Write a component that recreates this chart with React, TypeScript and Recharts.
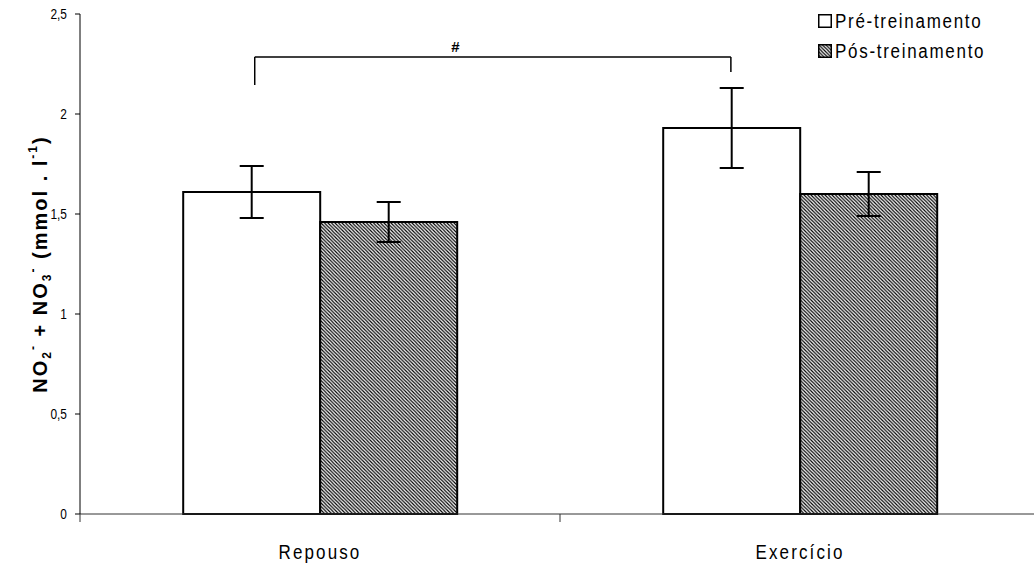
import React from 'react'
import {
  BarChart, Bar, XAxis, YAxis, ErrorBar, Legend, ReferenceLine, ReferenceDot,
} from 'recharts'

const categories = ['Repouso', 'Exercício']
const preValues = [1.61, 1.93]
const posValues = [1.46, 1.6]
const preErrors = [0.13, 0.2]
const posErrors = [0.1, 0.11]
const yTicks = [0, 0.5, 1, 1.5, 2, 2.5]
const seriesNames = ['Pré-treinamento', 'Pós-treinamento']

// significance bracket; x is a fraction of the plot width (hidden numeric axis 0..1)
const bracketY = 2.285
const bracketLeft = { x: 0.182, bottom: 2.145 }
const bracketRight = { x: 0.678, bottom: 2.21 }
const bracketMark = { x: 0.391, y: 2.335, text: '#' }

const SANS = '"Liberation Sans", Arial, sans-serif'

const chartData = categories.map((name, i) => ({
  name,
  pre: preValues[i],
  pos: posValues[i],
  preErr: preErrors[i],
  posErr: posErrors[i],
}))

const fmt = (v: number) => String(v).replace('.', ',')

function XTick(props: any) {
  const { x, y, payload, index, width } = props
  const band = width / categories.length
  const left = x - band / 2
  return (
    <g>
      <line x1={left} y1={y} x2={left} y2={y + 8} stroke="#333" />
      {index === categories.length - 1 && (
        <line x1={x + band / 2} y1={y} x2={x + band / 2} y2={y + 8} stroke="#333" />
      )}
      <text transform={`translate(${x}, ${y + 45}) scale(0.85, 1)`} textAnchor="middle"
        fontSize={20} fontFamily={SANS} letterSpacing={2.5} fill="#000">
        {payload.value}
      </text>
    </g>
  )
}

function YTick(props: any) {
  const { x, y, payload } = props
  return (
    <text transform={`translate(${x}, ${y}) scale(0.85, 1)`} textAnchor="end"
      dominantBaseline="central" fontSize={14} fontFamily={SANS} fill="#000">
      {fmt(payload.value)}
    </text>
  )
}

function YLabel(props: any) {
  const { viewBox } = props
  const cx = 40
  const cy = viewBox.y + viewBox.height / 2
  const small = { fontSize: 12 }
  return (
    <text x={cx} y={cy} transform={`rotate(-90, ${cx}, ${cy})`} textAnchor="middle"
      dominantBaseline="central" fontSize={20} fontWeight="bold" fontFamily={SANS} fill="#000"
      letterSpacing={2}>
      NO<tspan baselineShift="sub" {...small}>2</tspan>
      <tspan baselineShift="super" {...small}>-</tspan> + NO
      <tspan baselineShift="sub" {...small}>3</tspan>
      <tspan baselineShift="super" {...small}>-</tspan> (mmol . l
      <tspan baselineShift="super" {...small}>-1</tspan>)
    </text>
  )
}

function LegendBox() {
  const row = { display: 'flex', alignItems: 'center', height: 30 }
  const text = {
    fontSize: 20, fontFamily: SANS, letterSpacing: 2, color: '#000', marginLeft: 3,
    display: 'inline-block', transform: 'scaleX(0.85)', transformOrigin: 'left center', whiteSpace: 'nowrap' as const,
  }
  return (
    <div>
      {seriesNames.map((n, i) => (
        <div key={n} style={row}>
          <svg width={14} height={14}>
            <rect x={0.75} y={0.75} width={12.5} height={12.5} stroke="#000" strokeWidth={1.5}
              fill={i === 0 ? '#fff' : 'url(#hatch)'} />
          </svg>
          <span style={text}>{n}</span>
        </div>
      ))}
    </div>
  )
}

export default function App() {
  return (
    <div style={{ position: 'absolute', left: 0, top: 0, width: 1034, height: 568, overflow: 'hidden', background: '#fff' }}>
      <svg width={0} height={0} style={{ position: 'absolute' }}>
        <defs>
          <pattern id="hatch" patternUnits="userSpaceOnUse" width={3.5} height={3.5}>
            <rect width={3.5} height={3.5} fill="#fff" />
            <path d="M-1,-1 L4.5,4.5 M-1,2.5 L1,4.5 M2.5,-1 L4.5,1" stroke="#000" strokeWidth={1.2} />
          </pattern>
        </defs>
      </svg>
      <BarChart width={1046} height={568} data={chartData}
        margin={{ top: 14, right: 6, left: 0, bottom: 0 }}
        barCategoryGap="21.5%" barGap={0}>
        <XAxis dataKey="name" height={54} axisLine={{ stroke: '#333' }} tickLine={false}
          tickSize={0} tickMargin={0} tick={<XTick />} interval={0} />
        <XAxis xAxisId="n" type="number" domain={[0, 1]} allowDataOverflow hide />
        <YAxis width={80} domain={[0, 2.5]} ticks={yTicks}
          axisLine={{ stroke: '#000' }} tickLine={{ stroke: '#000' }} tickSize={5} tickMargin={8}
          tick={<YTick />} label={{ content: <YLabel /> }} />
        <Legend layout="vertical" align="center" verticalAlign="middle" content={<LegendBox />}
          wrapperStyle={{ top: 6, left: 818, width: 220 }} />
        <Bar dataKey="pre" name={seriesNames[0]} fill="#fff" stroke="#000" strokeWidth={2} isAnimationActive={false}>
          <ErrorBar dataKey="preErr" width={12} stroke="#000" strokeWidth={2} />
        </Bar>
        <Bar dataKey="pos" name={seriesNames[1]} fill="url(#hatch)" stroke="#000" strokeWidth={2} isAnimationActive={false}>
          <ErrorBar dataKey="posErr" width={12} stroke="#000" strokeWidth={2} />
        </Bar>
        <ReferenceLine xAxisId="n" stroke="#000" strokeWidth={1.5}
          segment={[{ x: bracketLeft.x, y: bracketY }, { x: bracketRight.x, y: bracketY }]} />
        <ReferenceLine xAxisId="n" stroke="#000" strokeWidth={1.5}
          segment={[{ x: bracketLeft.x, y: bracketY }, { x: bracketLeft.x, y: bracketLeft.bottom }]} />
        <ReferenceLine xAxisId="n" stroke="#000" strokeWidth={1.5}
          segment={[{ x: bracketRight.x, y: bracketY }, { x: bracketRight.x, y: bracketRight.bottom }]} />
        <ReferenceDot xAxisId="n" x={bracketMark.x} y={bracketMark.y} r={0}
          label={{ value: bracketMark.text, position: 'center', fontSize: 15, fontWeight: 'bold', fill: '#000', fontFamily: SANS }} />
      </BarChart>
    </div>
  )
}
